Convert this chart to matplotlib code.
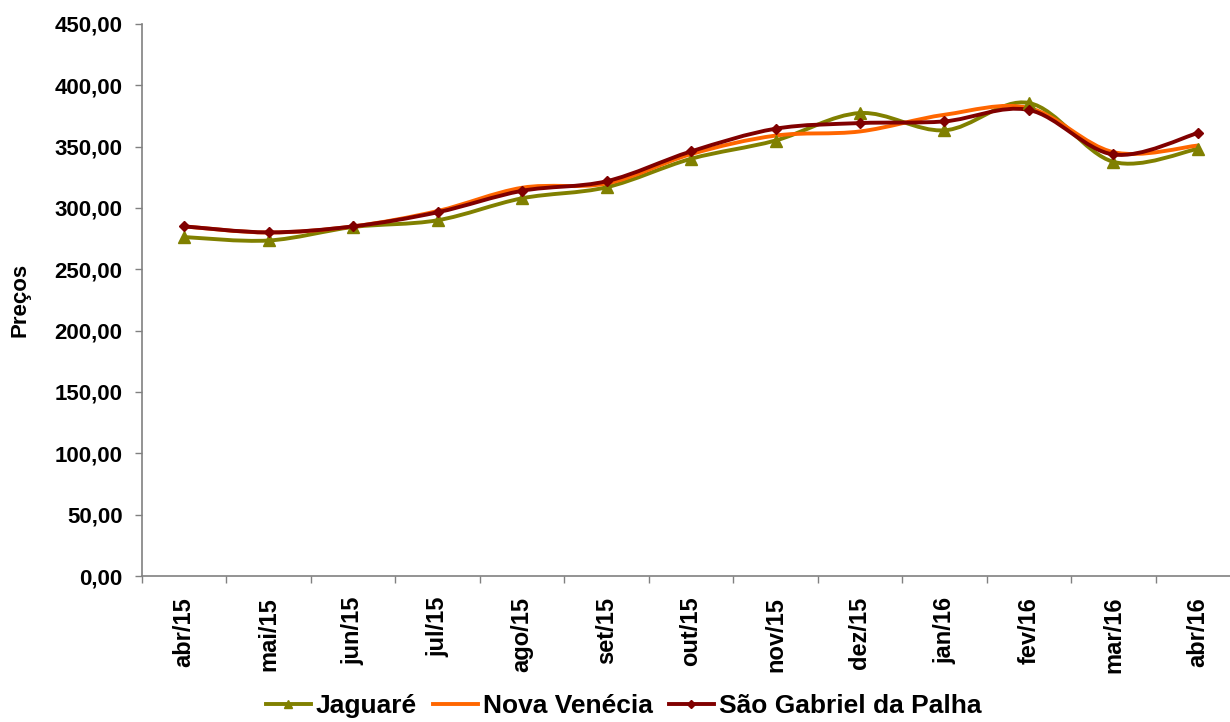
import matplotlib
matplotlib.use('agg')
import matplotlib.pyplot as plt
import numpy as np
from matplotlib.path import Path
from matplotlib.patches import PathPatch
from matplotlib.lines import Line2D
from matplotlib.ticker import FuncFormatter, FixedLocator

plt.rcParams['font.family'] = ['Liberation Sans', 'DejaVu Sans']
plt.rcParams['font.weight'] = 'bold'

months = ['abr/15', 'mai/15', 'jun/15', 'jul/15', 'ago/15', 'set/15', 'out/15',
          'nov/15', 'dez/15', 'jan/16', 'fev/16', 'mar/16', 'abr/16']
jaguare = [276.3, 273.5, 284.5, 290.0, 307.9, 316.9, 340.1, 355.0, 377.4, 363.3, 385.6, 337.6, 348.2]
nova_venecia = [285.0, 280.0, 285.0, 297.5, 316.5, 320.0, 343.9, 359.0, 362.4, 376.0, 381.5, 345.5, 350.9]
sao_gabriel = [285.0, 280.1, 285.0, 296.5, 314.0, 321.8, 346.1, 364.6, 369.2, 370.6, 379.9, 343.6, 361.1]

series = [
    ("Jaguaré", jaguare, '#808000', '^', 8),
    ("Nova Venécia", nova_venecia, '#FF6600', None, 0),
    ("São Gabriel da Palha", sao_gabriel, '#800000', 'D', 5),
]


def smooth_path(xs, ys):
    # cubic bezier through every point, control points from neighbours (1/6 rule)
    pts = np.column_stack([xs, ys]).astype(float)
    n = len(pts)
    verts = [pts[0]]
    codes = [Path.MOVETO]
    for i in range(n - 1):
        p0 = pts[i - 1] if i > 0 else pts[i]
        p1 = pts[i]
        p2 = pts[i + 1]
        p3 = pts[i + 2] if i + 2 < n else pts[i + 1]
        c1 = p1 + (p2 - p0) / 6.0
        c2 = p2 - (p3 - p1) / 6.0
        verts += [c1, c2, p2]
        codes += [Path.CURVE4] * 3
    return Path(verts, codes)


fig = plt.figure(figsize=(12.3, 7.22), dpi=100)
ax = fig.add_axes([0.1154, 0.2022, 0.8846, 0.7646])

xs = np.arange(len(months))
handles = []
for name, vals, col, mk, ms in series:
    ax.add_patch(PathPatch(smooth_path(xs, vals), facecolor='none', edgecolor=col,
                           lw=2.8, capstyle='round', joinstyle='round'))
    if mk:
        ax.plot(xs, vals, linestyle='none', marker=mk, markersize=ms, color=col)
    handles.append(Line2D([], [], color=col, lw=2.8, marker=mk, markersize=ms * 0.8 if mk else 0))

ax.set_xlim(-0.5, 12.38)
ax.set_ylim(0, 450)

ax.xaxis.set_major_locator(FixedLocator(np.arange(-0.5, 13, 1.0)))
ax.xaxis.set_major_formatter(FuncFormatter(lambda v, p: ''))
ax.xaxis.set_minor_locator(FixedLocator(xs))
ax.set_xticklabels(months, minor=True, rotation=90, fontsize=17, fontweight='bold')
ax.tick_params(axis='x', which='minor', length=0, pad=15)
ax.tick_params(axis='x', which='major', length=5, width=1, color='#808080', direction='out')

ax.set_yticks(np.arange(0, 451, 50))
ax.yaxis.set_major_formatter(FuncFormatter(lambda v, p: f"{v:.2f}".replace('.', ',')))
ax.tick_params(axis='y', length=5, width=1, color='#808080', pad=9, labelsize=16)
for lab in ax.get_yticklabels():
    lab.set_fontweight('bold')

for side in ['top', 'right']:
    ax.spines[side].set_visible(False)
for side in ['left', 'bottom']:
    ax.spines[side].set_color('#808080')
    ax.spines[side].set_linewidth(1.2)

ax.set_ylabel('Preços', fontsize=16, fontweight='bold')
ax.yaxis.set_label_coords(-0.102, 0.5)

fig.legend(handles=handles, labels=[s[0] for s in series], loc='center',
           bbox_to_anchor=(0.507, 0.022), ncol=3, frameon=False,
           prop={'size': 19, 'weight': 'bold'}, handlelength=1.7,
           handletextpad=0.2, columnspacing=0.6)

fig.savefig('out.png', dpi=100)
